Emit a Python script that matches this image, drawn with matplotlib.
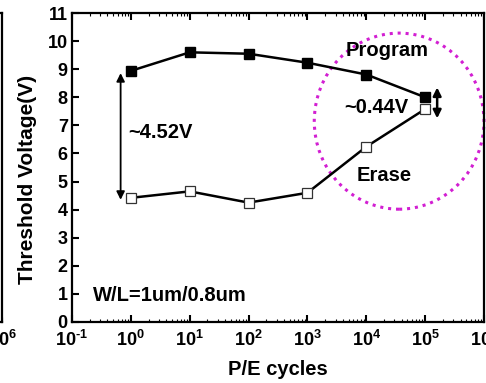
import numpy as np
import matplotlib
matplotlib.use('Agg')
import matplotlib.pyplot as plt
from matplotlib.patches import Ellipse
from matplotlib.ticker import FixedLocator, FixedFormatter, LogLocator, NullFormatter

plt.rcParams['font.family'] = 'Liberation Sans'
plt.rcParams['font.weight'] = 'bold'
plt.rcParams['mathtext.fontset'] = 'custom'
plt.rcParams['mathtext.rm'] = 'Liberation Sans:bold'
plt.rcParams['mathtext.it'] = 'Liberation Sans:bold'
plt.rcParams['mathtext.bf'] = 'Liberation Sans:bold'
plt.rcParams['axes.linewidth'] = 1.6

# data
cycles = [1e0, 1e1, 1e2, 1e3, 1e4, 1e5]
vt_program = [8.94, 9.60, 9.55, 9.23, 8.81, 8.00]
vt_erase = [4.42, 4.65, 4.25, 4.60, 6.24, 7.58]
xtick_pos = [1e-1, 1e0, 1e1, 1e2, 1e3, 1e4, 1e5, 1e6]
xtick_lab = [r'$10^{\text{-}1}$', r'$10^{0}$', r'$10^{1}$', r'$10^{2}$',
             r'$10^{3}$', r'$10^{4}$', r'$10^{5}$', r'$10^{6}$']
yticks = np.arange(0, 12, 1)

W, H = 486, 383
fig = plt.figure(figsize=(W/100, H/100), dpi=100)
ax_l, ax_r, ax_b, ax_t = 72/W, 484/W, (H-322)/H, (H-13)/H

# fragment of the neighbouring panel on the left
ax0 = fig.add_axes([2/W - 0.8, ax_b, 0.8, ax_t-ax_b])
ax0.set_xscale('log')
ax0.set_xlim(1e-1, 1e6)
ax0.xaxis.set_major_locator(FixedLocator([1e6]))
ax0.xaxis.set_major_formatter(FixedFormatter([r'$10^{6}$']))
ax0.xaxis.set_minor_formatter(NullFormatter())
ax0.set_yticks([])
ax0.tick_params(axis='x', labelsize=13, direction='in', pad=6)

ax = fig.add_axes([ax_l, ax_b, ax_r-ax_l, ax_t-ax_b])
ax.set_xscale('log')
ax.plot(cycles, vt_program, '-', color='black', lw=1.8, marker='s',
        ms=7.5, mfc='black', mec='black', zorder=3)
ax.plot(cycles, vt_erase, '-', color='black', lw=1.8, marker='s',
        ms=7.5, mfc='white', mec='#333333', mew=0.9, zorder=3)

ax.set_xlim(1e-1, 1e6)
ax.set_ylim(0, 11)
ax.xaxis.set_major_locator(FixedLocator(xtick_pos))
ax.xaxis.set_major_formatter(FixedFormatter(xtick_lab))
ax.xaxis.set_minor_locator(LogLocator(base=10, subs=np.arange(2, 10)))
ax.xaxis.set_minor_formatter(NullFormatter())
ax.set_yticks(yticks)
ax.tick_params(axis='both', which='major', labelsize=13, direction='in',
               length=5, width=1.5, top=True, pad=6)
ax.tick_params(axis='x', which='minor', direction='in', length=2,
               width=0.8, top=True)
ax.tick_params(axis='y', pad=3)
for t in ax.get_yticklabels():
    t.set_fontweight('bold')

ax.set_xlabel('P/E cycles', fontsize=14.5, fontweight='bold', labelpad=7)
ax.set_ylabel('Threshold Voltage(V)', fontsize=15, fontweight='bold', labelpad=8, y=0.46)

# window arrows
ax.annotate('', xy=(0.67, 8.86), xytext=(0.67, 4.35),
            arrowprops=dict(arrowstyle='<|-|>', color='black', lw=1.3,
                            mutation_scale=12, shrinkA=0, shrinkB=0))
ax.annotate('', xy=(1.6e5, 8.35), xytext=(1.6e5, 7.25),
            arrowprops=dict(arrowstyle='<|-|>', color='black', lw=1.8,
                            mutation_scale=12, shrinkA=0, shrinkB=0))

ax.text(0.9, 6.76, '~4.52V', fontsize=14.5, fontweight='bold', va='center', ha='left')
ax.text(4.2e3, 7.65, '~0.44V', fontsize=14.5, fontweight='bold', va='center', ha='left')
ax.text(2.3e4, 9.68, 'Program', fontsize=14.5, fontweight='bold', va='center', ha='center')
ax.text(2.0e4, 5.23, 'Erase', fontsize=14.5, fontweight='bold', va='center', ha='center')
ax.text(0.23, 0.96, 'W/L=1um/0.8um', fontsize=14.5, fontweight='bold', va='center', ha='left')

circ = Ellipse((0.794, 0.65), 0.412, 0.57, transform=ax.transAxes,
               fill=False, edgecolor='#d21fd2', lw=2.2, linestyle=(0, (1, 1.6)),
               zorder=2, clip_on=False)
ax.add_patch(circ)

fig.savefig('out.png', dpi=100)
